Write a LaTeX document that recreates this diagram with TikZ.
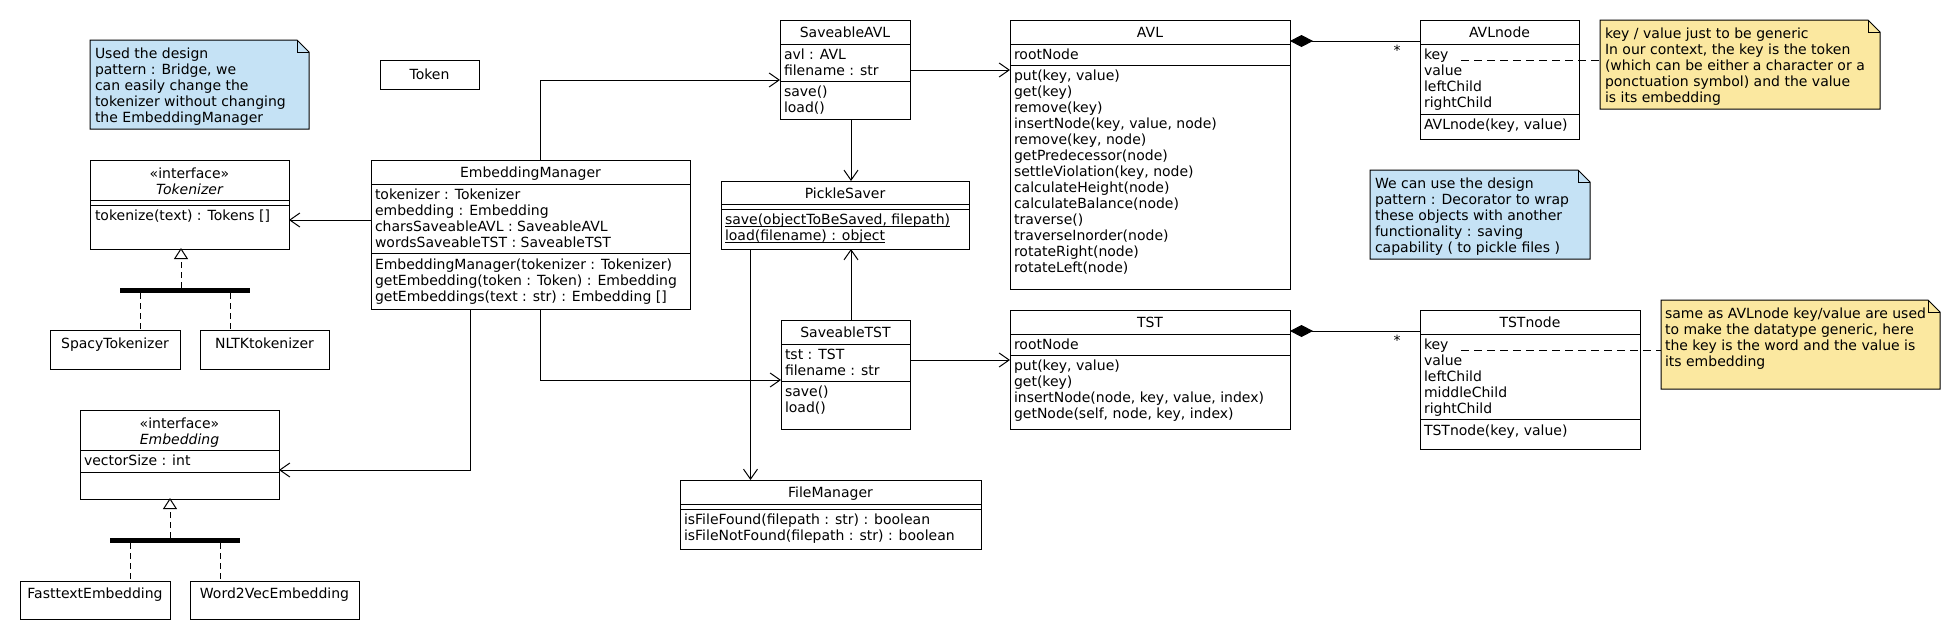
\documentclass[tikz,border=0pt]{standalone}
\usepackage{fontspec}
\setmainfont{DejaVu Sans}
\usetikzlibrary{arrows.meta,calc}
\definecolor{noteblue}{RGB}{197,226,245}
\definecolor{noteyellow}{RGB}{251,232,160}
\newcounter{tn}
\newcommand\TL[3]{\stepcounter{tn}\node[txt,anchor=base west] (t\thetn) at (#1,#2) {#3};}
\newcommand\TC[3]{\stepcounter{tn}\node[txt,anchor=base] (t\thetn) at (#1,#2) {#3};}
\newcommand\umlbox[5]{\node[umlbox,minimum width=#4pt,minimum height=#5pt] (#1) at (#2,#3) {};}
\newcommand\hdiv[2]{\draw[ln] ($(#1.north west)+(0,#2)$) -- ($(#1.north east)+(0,#2)$);}
\newcommand\ulst[1]{\setbox0\hbox{#1}\rlap{\rule[-2pt]{\wd0}{0.9pt}}\box0}
\newcommand\umlnote[6]{%
  \node[notearea,minimum width=#4pt,minimum height=#5pt] (#1) at (#2,#3) {};
  \filldraw[ln,fill=#6] (#1.north west) -- ($(#1.north east)+(-12,0)$) -- ($(#1.north east)+(0,12)$) -- (#1.south east) -- (#1.south west) -- cycle;
  \draw[ln] ($(#1.north east)+(-12,0)$) -- ($(#1.north east)+(-12,12)$) -- ($(#1.north east)+(0,12)$);}
\begin{document}
\begin{tikzpicture}[x=1pt,y=-1pt,
  ln/.style={line width=1pt,draw=black},
  umlbox/.style={draw=black,line width=1pt,fill=white,inner sep=0pt,outer sep=0pt,anchor=north west},
  notearea/.style={inner sep=0pt,outer sep=0pt,anchor=north west},
  txt/.style={font=\fontsize{14pt}{16pt}\selectfont,inner sep=0pt,outer sep=0pt,text=black},
  assoc/.style={ln,-{Straight Barb[length=10pt,width=14pt]}},
  realiz/.style={ln,dash pattern=on 6pt off 4pt},
  realtip/.style={ln,dash pattern=on 6pt off 4pt,-{Triangle[length=11pt,width=14pt,fill=white]}},
  notelink/.style={ln,dash pattern=on 8pt off 5pt},
  compo/.style={ln,{Diamond[length=23pt,width=12pt]}-}]
\fill[white] (0,0) rectangle (1960,640);
\path[use as bounding box] (0,0) rectangle (1960,640);

% ---------- notes ----------
\umlnote{note1}{90}{40}{219}{89}{noteblue}
\TL{95}{58}{Used the design}
\TL{95}{74}{pattern : Bridge, we}
\TL{95}{90}{can easily change the}
\TL{95}{106}{tokenizer without changing}
\TL{95}{122}{the EmbeddingManager}

\umlnote{nkey}{1600}{20}{280}{89}{noteyellow}
\TL{1605}{38}{key / value just to be generic}
\TL{1605}{54}{In our context, the key is the token}
\TL{1605}{70}{(which can be either a character or a}
\TL{1605}{86}{ponctuation symbol) and the value}
\TL{1605}{102}{is its embedding}

\umlnote{ndec}{1370}{170}{220}{89}{noteblue}
\TL{1375}{188}{We can use the design}
\TL{1375}{204}{pattern : Decorator to wrap}
\TL{1375}{220}{these objects with another}
\TL{1375}{236}{functionality : saving}
\TL{1375}{252}{capability ( to pickle files )}

\umlnote{nsame}{1661}{300}{279}{89}{noteyellow}
\TL{1665}{318}{same as AVLnode key/value are used}
\TL{1665}{334}{to make the datatype generic, here}
\TL{1665}{350}{the key is the word and the value is}
\TL{1665}{366}{its embedding}

% ---------- Token ----------
\umlbox{token}{380}{60}{99}{29}
\TC{429.5}{79}{Token}

% ---------- Tokenizer ----------
\umlbox{tokz}{90}{160}{199}{89}
\hdiv{tokz}{40}\hdiv{tokz}{45}
\TC{189.5}{178}{«interface»}
\TC{189.5}{194}{\itshape Tokenizer}
\TL{95}{220}{tokenize(text) : Tokens []}

% ---------- EmbeddingManager ----------
\umlbox{em}{371}{160}{319}{149}
\hdiv{em}{24}\hdiv{em}{93}
\TC{530.5}{177}{EmbeddingManager}
\TL{375}{199}{tokenizer : Tokenizer}
\TL{375}{215}{embedding : Embedding}
\TL{375}{231}{charsSaveableAVL : SaveableAVL}
\TL{375}{247}{wordsSaveableTST : SaveableTST}
\TL{375}{269}{EmbeddingManager(tokenizer : Tokenizer)}
\TL{375}{285}{getEmbedding(token : Token) : Embedding}
\TL{375}{301}{getEmbeddings(text : str) : Embedding []}

% ---------- tokenizers ----------
\umlbox{spacy}{50}{330}{130}{39}
\TC{115}{348}{SpacyTokenizer}
\umlbox{nltk}{200}{330}{129}{39}
\TC{264.5}{348}{NLTKtokenizer}
\node[fill=black,inner sep=0pt,outer sep=0pt,anchor=north west,minimum width=130pt,minimum height=5pt] (bar1) at (120,288) {};

% ---------- Embedding ----------
\umlbox{emb}{80}{410}{199}{89}
\hdiv{emb}{40}\hdiv{emb}{62}
\TC{179.5}{428}{«interface»}
\TC{179.5}{444}{\itshape Embedding}
\TL{84}{465}{vectorSize : int}

\umlbox{fast}{20}{581}{150}{38}
\TC{95}{598}{FasttextEmbedding}
\umlbox{w2v}{190}{581}{169}{38}
\TC{274.5}{598}{Word2VecEmbedding}
\node[fill=black,inner sep=0pt,outer sep=0pt,anchor=north west,minimum width=130pt,minimum height=5pt] (bar2) at (110,538) {};

% ---------- SaveableAVL ----------
\umlbox{savl}{780}{20}{130}{99}
\hdiv{savl}{24}\hdiv{savl}{61}
\TC{845}{37}{SaveableAVL}
\TL{784}{59}{avl : AVL}
\TL{784}{75}{filename : str}
\TL{784}{96}{save()}
\TL{784}{112}{load()}

% ---------- PickleSaver ----------
\umlbox{ps}{721}{181}{248}{68}
\hdiv{ps}{23}\hdiv{ps}{28}
\TC{845}{198}{PickleSaver}
\TL{725}{224.5}{\ulst{save(objectToBeSaved, filepath)}}
\TL{725}{240.5}{\ulst{load(filename) : object}}

% ---------- SaveableTST ----------
\umlbox{stst}{781}{320}{129}{109}
\hdiv{stst}{24}\hdiv{stst}{61}
\TC{845.5}{337}{SaveableTST}
\TL{785}{359}{tst : TST}
\TL{785}{375}{filename : str}
\TL{785}{396}{save()}
\TL{785}{412}{load()}

% ---------- FileManager ----------
\umlbox{fm}{680}{480}{301}{69}
\hdiv{fm}{24}\hdiv{fm}{29}
\TC{830.5}{497}{FileManager}
\TL{684}{524.5}{isFileFound(filepath : str) : boolean}
\TL{684}{540.5}{isFileNotFound(filepath : str) : boolean}

% ---------- AVL ----------
\umlbox{avl}{1010}{20}{280}{269}
\hdiv{avl}{24}\hdiv{avl}{45}
\TC{1150}{37}{AVL}
\TL{1014}{59}{rootNode}
\TL{1014}{80}{put(key, value)}
\TL{1014}{96}{get(key)}
\TL{1014}{112}{remove(key)}
\TL{1014}{128}{insertNode(key, value, node)}
\TL{1014}{144}{remove(key, node)}
\TL{1014}{160}{getPredecessor(node)}
\TL{1014}{176}{settleViolation(key, node)}
\TL{1014}{192}{calculateHeight(node)}
\TL{1014}{208}{calculateBalance(node)}
\TL{1014}{224}{traverse()}
\TL{1014}{240}{traverseInorder(node)}
\TL{1014}{256}{rotateRight(node)}
\TL{1014}{272}{rotateLeft(node)}

% ---------- TST ----------
\umlbox{tst}{1010}{310}{280}{119}
\hdiv{tst}{24}\hdiv{tst}{45}
\TC{1150}{327}{TST}
\TL{1014}{349}{rootNode}
\TL{1014}{370}{put(key, value)}
\TL{1014}{386}{get(key)}
\TL{1014}{402}{insertNode(node, key, value, index)}
\TL{1014}{418}{getNode(self, node, key, index)}

% ---------- AVLnode ----------
\umlbox{avln}{1420}{20}{159}{119}
\hdiv{avln}{24}\hdiv{avln}{94}
\TC{1499.5}{37}{AVLnode}
\TL{1424}{59}{key}
\TL{1424}{75}{value}
\TL{1424}{91}{leftChild}
\TL{1424}{107}{rightChild}
\TL{1424}{129}{AVLnode(key, value)}

% ---------- TSTnode ----------
\umlbox{tstn}{1420}{310}{220}{139}
\hdiv{tstn}{24}\hdiv{tstn}{109}
\TC{1530}{327}{TSTnode}
\TL{1424}{349}{key}
\TL{1424}{365}{value}
\TL{1424}{381}{leftChild}
\TL{1424}{397}{middleChild}
\TL{1424}{413}{rightChild}
\TL{1424}{435}{TSTnode(key, value)}

% ---------- connectors ----------
\draw[assoc] ($(em.north west)+(0,60)$) -- ($(tokz.north east)+(0,60)$);
\draw[assoc] ($(em.south west)+(99,0)$) |- ($(emb.south east)+(0,-29)$);
\draw[assoc] ($(em.north west)+(169.6,0)$) |- ($(savl.north west)+(0,60)$);
\draw[assoc] ($(em.south west)+(169.6,0)$) |- ($(stst.north west)+(0,60)$);
\draw[assoc] ($(savl.north east)+(0,50)$) -- ($(avl.north west)+(0,50)$);
\draw[assoc] ($(stst.north east)+(0,40)$) -- ($(tst.north west)+(0,50)$);
\draw[assoc] ($(savl.south west)+(71,0)$) -- ($(ps.north west)+(130,0)$);
\draw[assoc] ($(stst.north west)+(70,0)$) -- ($(ps.south west)+(130,0)$);
\draw[assoc] ($(ps.south west)+(29.5,0)$) -- ($(fm.north west)+(70.5,0)$);

\draw[realtip] ($(bar1.north west)+(61,0)$) -- ($(tokz.south west)+(91,-1)$);
\draw[realiz] ($(bar1.south west)+(20,0)$) -- ($(spacy.north west)+(90,0)$);
\draw[realiz] ($(bar1.south west)+(110,0)$) -- ($(nltk.north west)+(30,0)$);
\draw[realtip] ($(bar2.north west)+(60,0)$) -- ($(emb.south west)+(90,-1)$);
\draw[realiz] ($(bar2.south west)+(20,0)$) -- ($(fast.north west)+(110,0)$);
\draw[realiz] ($(bar2.south west)+(110,0)$) -- ($(w2v.north west)+(30,0)$);

\draw[compo] ($(avl.north east)+(0,21)$) -- ($(avln.north west)+(0,21)$);
\draw[compo] ($(tst.north east)+(0,21)$) -- ($(tstn.north west)+(0,21)$);
\node[txt,anchor=base] (star1) at (1397,55) {*};
\node[txt,anchor=base] (star2) at (1397,345) {*};

\draw[notelink] ($(avln.north west)+(41,40)$) -- ($(nkey.north west)+(0,40)$);
\draw[notelink] ($(tstn.north west)+(41,40)$) -- ($(nsame.north west)+(0,50)$);
\end{tikzpicture}
\end{document}
